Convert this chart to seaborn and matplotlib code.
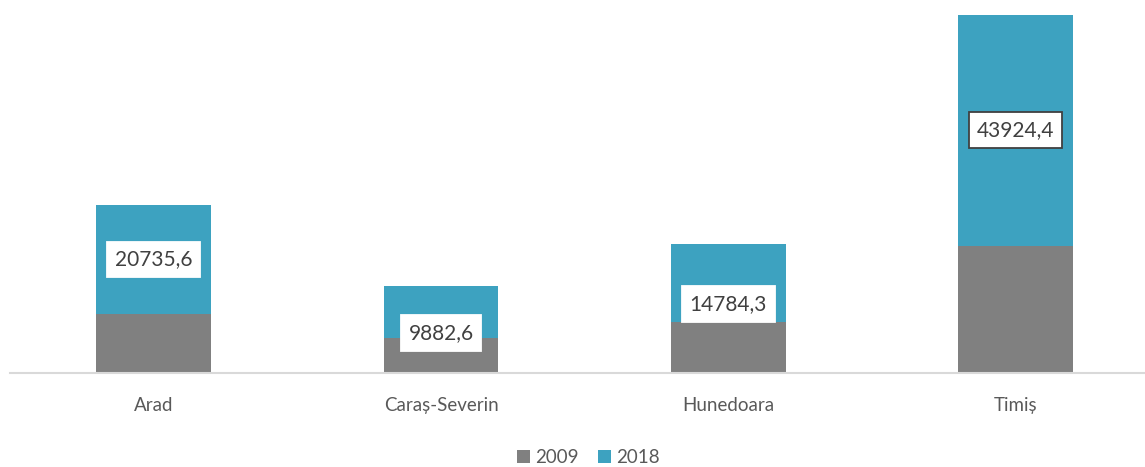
import seaborn as sns
import matplotlib.pyplot as plt
import pandas as pd

judete = ["Arad", "Caraș-Severin", "Hunedoara", "Timiș"]
val_2009 = [11230, 6610, 9770, 24240]
val_2018 = [20735.6, 9882.6, 14784.3, 43924.4]
etichete = ["20735,6", "9882,6", "14784,3", "43924,4"]

df = pd.DataFrame({"judet": judete, "2009": val_2009, "2018": val_2018})
df["total"] = df["2009"] + df["2018"]

sns.set_style("white")
plt.rcParams["font.family"] = ["Lato", "DejaVu Sans"]

gri = "#808080"
albastru = "#3DA2C0"

fig = plt.figure(figsize=(11.45, 4.67), dpi=100)
ax = fig.add_axes([10 / 1145, 94 / 467, 1 - 10 / 1145, (373 - 5.4) / 467])

sns.barplot(data=df, x="judet", y="total", color=albastru, width=0.4,
            saturation=1, ax=ax, label="2018", linewidth=0)
sns.barplot(data=df, x="judet", y="2009", color=gri, width=0.4,
            saturation=1, ax=ax, label="2009", linewidth=0)

ax.set_xlim(-0.5, 3.45)
ax.set_ylim(0, 70000)
ax.set_xlabel("")
ax.set_ylabel("")
ax.set_yticks([])
for s in ["top", "right", "left"]:
    ax.spines[s].set_visible(False)
ax.spines["bottom"].set_color("#D9D9D9")
ax.spines["bottom"].set_linewidth(1.5)
ax.tick_params(axis="x", length=0, pad=17, labelsize=13.5, labelcolor="#595959")

# etichete pe segmentul 2018
deplasare = [0, -15, -15, 0]
for i, row in df.iterrows():
    mij = row["2009"] + row["2018"] / 2
    ax.annotate(etichete[i], (i, mij), xytext=(0, deplasare[i]),
                textcoords="offset points", ha="center", va="center",
                fontsize=15, color="#404040",
                bbox=dict(boxstyle="square,pad=0.38", fc="white",
                          ec="#404040" if i == 3 else "white", lw=1.3))

h, l = ax.get_legend_handles_labels()
ax.legend_.remove()
fig.legend(h[::-1], l[::-1], loc="lower center", bbox_to_anchor=(0.514, -0.035),
           ncol=2, frameon=False, fontsize=13.5, labelcolor="#595959",
           handlelength=0.7, handleheight=0.7, handletextpad=0.3, columnspacing=1.0)

fig.savefig("out.png", dpi=100)
